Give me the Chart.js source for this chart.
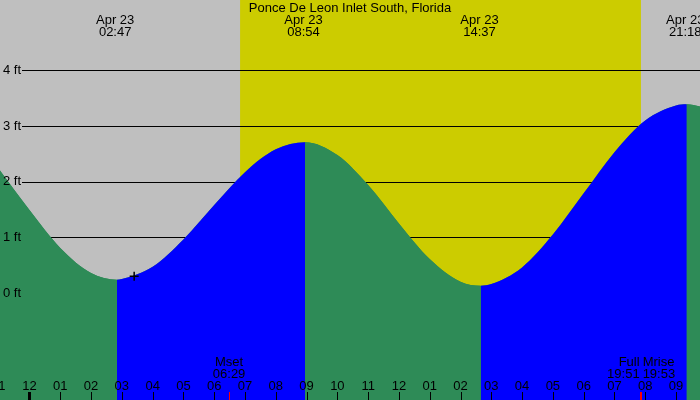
<!DOCTYPE html>
<html>
<head>
<meta charset="utf-8">
<script src="https://cdn.jsdelivr.net/npm/chart.js@4/dist/chart.umd.min.js"></script>
<style>
  html, body { margin: 0; padding: 0; background: #bfbfbf; }
  #grafico { display: block; }
</style>
</head>
<body>
<canvas id="grafico" width="700" height="400"></canvas>
<script>
// Dados da maré (horas a partir de 00:00 de Apr 23, altura em pés)
const tideHours = [-0.958, 0, 1, 2, 2.84, 3, 4, 5, 6, 7, 8, 8.95, 10, 11, 12, 13, 14, 14.66, 15, 16, 17, 18, 19, 20, 21, 21.35, 21.779];
const tideFeet  = [2.20, 1.49, 0.81, 0.36, 0.24, 0.25, 0.47, 0.96, 1.58, 2.17, 2.58, 2.71, 2.48, 1.94, 1.25, 0.61, 0.20, 0.13, 0.16, 0.46, 1.05, 1.79, 2.53, 3.10, 3.37, 3.39, 3.35];

// Extremos (preamar / baixa-mar)
const extremeHours = [2.783, 8.9, 14.617, 21.3];
const extremeDates = ['Apr 23', 'Apr 23', 'Apr 23', 'Apr 23'];
const extremeTimes = ['02:47', '08:54', '14:37', '21:18'];

// Eixos
const depthTicks = [0, 1, 2, 3, 4];
const depthLabels = ['0 ft', '1 ft', '2 ft', '3 ft', '4 ft'];
const hourTicks = [-1, 0, 1, 2, 3, 4, 5, 6, 7, 8, 9, 10, 11, 12, 13, 14, 15, 16, 17, 18, 19, 20, 21];
const hourLabels = ['11', '12', '01', '02', '03', '04', '05', '06', '07', '08', '09', '10', '11', '12', '01', '02', '03', '04', '05', '06', '07', '08', '09'];

// Sol e lua
const sunrise = 6.84;
const sunset = 19.86;
const moonHours = [6.483, 19.85, 19.883];
const moonNames = ['Mset', 'Full', 'Mrise'];
const moonTimes = ['06:29', '19:51', '19:53'];

// Marcador "+" (hora atual)
const nowPoint = [3.40, 0.30];

const titulo = 'Ponce De Leon Inlet South, Florida';

const COR_NOITE = '#bfbfbf';
const COR_DIA = '#cccc00';
const COR_VAZANTE = '#2e8b57';
const COR_ENCHENTE = '#0000ff';
const FONTE = '13px "Liberation Sans", Arial, sans-serif';

// Plugin para fundo dia/noite, linhas e textos
const decoracaoMare = {
  id: 'decoracaoMare',
  beforeDatasetsDraw(chart) {
    const { ctx, chartArea: a, scales: { x, y } } = chart;
    ctx.save();
    ctx.fillStyle = COR_NOITE;
    ctx.fillRect(a.left, a.top, a.width, a.height);
    const x0 = x.getPixelForValue(sunrise);
    const x1 = x.getPixelForValue(sunset);
    ctx.fillStyle = COR_DIA;
    ctx.fillRect(x0, a.top, x1 - x0, a.height);

    ctx.strokeStyle = '#000';
    ctx.lineWidth = 1;
    depthTicks.forEach(v => {
      const py = Math.round(y.getPixelForValue(v)) + 0.5;
      ctx.beginPath();
      ctx.moveTo(22, py);
      ctx.lineTo(a.right, py);
      ctx.stroke();
    });
    ctx.restore();
  },
  afterDatasetsDraw(chart) {
    const { ctx, chartArea: a, scales: { x, y } } = chart;
    ctx.save();
    ctx.font = FONTE;
    ctx.fillStyle = '#000';
    ctx.textBaseline = 'middle';

    // rótulos do eixo y
    ctx.textAlign = 'left';
    depthTicks.forEach((v, i) => {
      ctx.fillText(depthLabels[i], 3, y.getPixelForValue(v));
    });

    // título
    ctx.textAlign = 'center';
    ctx.fillText(titulo, a.left + a.width / 2, 8);

    // extremos
    extremeHours.forEach((h, i) => {
      const px = x.getPixelForValue(h);
      ctx.fillText(extremeDates[i], px, 20);
      ctx.fillText(extremeTimes[i], px, 32);
    });

    // horas
    hourTicks.forEach((h, i) => {
      const px = x.getPixelForValue(h);
      ctx.fillText(hourLabels[i], px, 386);
      if (h === 0) {
        ctx.fillRect(Math.round(px) - 1, 392, 3, 8);
      } else {
        ctx.fillRect(Math.round(px), 392, 1, 8);
      }
    });

    // eventos da lua
    moonHours.forEach((h, i) => {
      const px = x.getPixelForValue(h);
      ctx.fillStyle = '#ff0000';
      ctx.fillRect(Math.floor(px), 392, 1, 8);
      ctx.fillStyle = '#000';
      let tx = px;
      ctx.textAlign = 'center';
      if (moonNames[i] === 'Full') { ctx.textAlign = 'right'; tx = px - 1; }
      if (moonNames[i] === 'Mrise') { ctx.textAlign = 'left'; tx = px + 1; }
      ctx.fillText(moonNames[i], tx, 362);
      ctx.fillText(moonTimes[i], tx, 374);
    });
    ctx.restore();
  }
};

const dadosMare = tideHours.map((h, i) => ({ x: h, y: tideFeet[i] }));

const ctx = document.getElementById('grafico').getContext('2d');
new Chart(ctx, {
  type: 'line',
  data: {
    datasets: [
      {
        type: 'scatter',
        data: [{ x: nowPoint[0], y: nowPoint[1] }],
        pointStyle: 'cross',
        pointRadius: 4.5,
        borderColor: '#000',
        borderWidth: 1.5,
        order: 0
      },
      {
        // enchente (azul) / vazante (verde)
        data: dadosMare,
        borderWidth: 0,
        borderColor: 'rgba(0,0,0,0)',
        pointRadius: 0,
        fill: 'start',
        backgroundColor: COR_VAZANTE,
        cubicInterpolationMode: 'monotone',
        segment: {
          backgroundColor: c => c.p1.parsed.y > c.p0.parsed.y ? COR_ENCHENTE : COR_VAZANTE
        },
        order: 1
      },
      {
        // camada de baixo, evita frestas entre os segmentos
        data: dadosMare,
        borderWidth: 0,
        borderColor: 'rgba(0,0,0,0)',
        pointRadius: 0,
        fill: 'start',
        backgroundColor: COR_VAZANTE,
        cubicInterpolationMode: 'monotone',
        order: 2
      }
    ]
  },
  options: {
    responsive: false,
    animation: false,
    layout: { padding: 0, autoPadding: false },
    plugins: {
      legend: { display: false },
      tooltip: { enabled: false }
    },
    scales: {
      x: {
        type: 'linear',
        display: false,
        min: -0.958,
        max: 21.779
      },
      y: {
        display: false,
        min: -1.922,
        max: 5.263
      }
    }
  },
  plugins: [decoracaoMare]
});
</script>
</body>
</html>
